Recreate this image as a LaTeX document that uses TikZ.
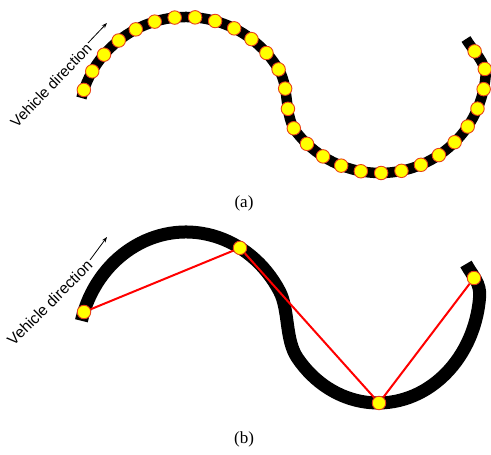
\documentclass[tikz,border=0pt]{standalone}
\usepackage{fontspec}
\newfontfamily\labelsans{Liberation Sans}
\newfontfamily\labelserif{Liberation Serif}
\usetikzlibrary{arrows.meta,decorations.markings}
\definecolor{dotfill}{HTML}{FFFF00}
\definecolor{dotedge}{HTML}{E8401A}
\definecolor{chord}{HTML}{FF0000}
\tikzset{
  trackA/.style={line width=10.5pt, black},
  trackB/.style={line width=13pt, black},
  dot/.style={circle, fill=dotfill, draw=dotedge, line width=0.9pt, minimum size=13.5pt, inner sep=0pt},
  chordline/.style={chord, line width=2pt},
  dirarrow/.style={black, line width=0.8pt, -{Stealth[length=5.5pt,width=4pt]}},
  dirtext/.style={font=\labelsans\fontsize{#1}{#1}\selectfont, inner sep=0pt},
  panellabel/.style={font=\labelserif\fontsize{17}{17}\selectfont, inner sep=0pt},
  dotrow/.style={postaction={decorate, decoration={markings,
     mark=between positions 8.4pt and 603pt step 20.43pt with {\node[dot] (adot\pgfkeysvalueof{/pgf/decoration/mark info/sequence number}) {};}}}}
}
\begin{document}
\begin{tikzpicture}[x=1pt, y=-1pt]
\useasboundingbox (0,0) rectangle (491,455);
% ---------- panel (a) ----------
\draw[trackA, dotrow] (81.44,97.96)
  arc[start angle=-165.5, end angle=-30, radius=108]
  .. controls (289.5,88.3) and (283.9,116.1) .. (296.24,131.96)
  arc[start angle=142.2, end angle=5, radius=106]
  .. controls (486.7,63.2) and (472.5,50.2) .. (466,39);
\node[dirtext=15, rotate=46] (vda) at (51,85) {Vehicle direction};
\coordinate (arra1) at (88,43);
\coordinate (arra2) at (107,23);
\draw[dirarrow] (arra1) -- (arra2);
\node[panellabel] (la) at (244,203) {(a)};
% ---------- panel (b) ----------
\draw[trackB] (81.44,320.75)
  arc[start angle=-165.5, end angle=-30, x radius=108, y radius=118.4]
  .. controls (289.3,309.8) and (285,339.8) .. (297.4,358)
  arc[start angle=142.2, end angle=5, x radius=102, y radius=116.2]
  .. controls (480.8,282.9) and (472.7,276.3) .. (466,264);
\node[dot] (b1) at (84,312) {};
\node[dot] (b2) at (240,247.9) {};
\node[dot] (b3) at (379,403) {};
\node[dot] (b4) at (474,278) {};
\draw[chordline] (b1) -- (b2) -- (b3) -- (b4);
\node[dirtext=15.5, rotate=45] (vdb) at (49.7,302.7) {Vehicle direction};
\coordinate (arrb1) at (90,260);
\coordinate (arrb2) at (107,237);
\draw[dirarrow] (arrb1) -- (arrb2);
\node[panellabel] (lb) at (244,439) {(b)};
\end{tikzpicture}
\end{document}
